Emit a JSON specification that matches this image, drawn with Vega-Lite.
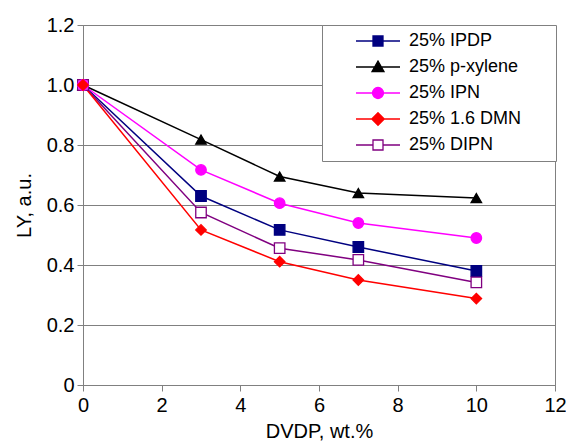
{
  "$schema": "https://vega.github.io/schema/vega-lite/v6.json",
  "width": 472,
  "height": 360,
  "autosize": {"type": "none"},
  "padding": {"left": 83, "top": 25, "right": 11, "bottom": 59},
  "background": "white",
  "config": {
    "font": "Liberation Sans",
    "view": {"stroke": "#808080", "strokeWidth": 1},
    "axis": {
      "domainColor": "#808080",
      "tickColor": "#808080",
      "tickSize": 6,
      "labelFontSize": 20,
      "titleFontSize": 20,
      "titleFontWeight": "normal",
      "labelColor": "black",
      "titleColor": "black",
      "labelFont": "Liberation Sans",
      "titleFont": "Liberation Sans",
      "gridColor": "#808080",
      "gridOpacity": 1,
      "labelFlush": false
    }
  },
  "data": {
    "values": [
      {"series": "25% IPDP", "x": 0, "y": 1.0},
      {"series": "25% IPDP", "x": 3, "y": 0.63},
      {"series": "25% IPDP", "x": 5, "y": 0.517},
      {"series": "25% IPDP", "x": 7, "y": 0.46},
      {"series": "25% IPDP", "x": 10, "y": 0.38},
      {"series": "25% p-xylene", "x": 0, "y": 1.0},
      {"series": "25% p-xylene", "x": 3, "y": 0.818},
      {"series": "25% p-xylene", "x": 5, "y": 0.695},
      {"series": "25% p-xylene", "x": 7, "y": 0.64},
      {"series": "25% p-xylene", "x": 10, "y": 0.623},
      {"series": "25% DIPN", "x": 0, "y": 1.0},
      {"series": "25% DIPN", "x": 3, "y": 0.575},
      {"series": "25% DIPN", "x": 5, "y": 0.456},
      {"series": "25% DIPN", "x": 7, "y": 0.417},
      {"series": "25% DIPN", "x": 10, "y": 0.342},
      {"series": "25% IPN", "x": 0, "y": 1.0},
      {"series": "25% IPN", "x": 3, "y": 0.717},
      {"series": "25% IPN", "x": 5, "y": 0.606},
      {"series": "25% IPN", "x": 7, "y": 0.54},
      {"series": "25% IPN", "x": 10, "y": 0.49},
      {"series": "25% 1.6 DMN", "x": 0, "y": 1.0},
      {"series": "25% 1.6 DMN", "x": 3, "y": 0.517},
      {"series": "25% 1.6 DMN", "x": 5, "y": 0.411},
      {"series": "25% 1.6 DMN", "x": 7, "y": 0.35},
      {"series": "25% 1.6 DMN", "x": 10, "y": 0.288}
    ]
  },
  "encoding": {
    "x": {
      "field": "x",
      "type": "quantitative",
      "scale": {"domain": [0, 12], "nice": false, "zero": false},
      "axis": {"values": [0, 2, 4, 6, 8, 10, 12], "grid": false, "title": "DVDP, wt.%", "labelPadding": 4, "titlePadding": 6}
    },
    "y": {
      "field": "y",
      "type": "quantitative",
      "scale": {"domain": [0, 1.2], "nice": false},
      "axis": {
        "values": [0, 0.2, 0.4, 0.6, 0.8, 1.0, 1.2],
        "grid": true,
        "title": "LY, a.u.",
        "labelExpr": "datum.value == 0 ? '0' : format(datum.value, '.1f')",
        "labelPadding": 3,
        "titlePadding": 12
      }
    }
  },
  "layer": [
    {
      "mark": {"type": "line", "strokeWidth": 1.5},
      "encoding": {
        "color": {
          "field": "series",
          "type": "nominal",
          "scale": {
            "domain": ["25% IPDP", "25% p-xylene", "25% IPN", "25% 1.6 DMN", "25% DIPN"],
            "range": ["#000080", "#000000", "#FF00FF", "#FF0000", "#800080"]
          },
          "legend": null
        },
        "detail": {"field": "series"}
      }
    },
    {
      "mark": {"type": "point", "size": 110, "strokeWidth": 1.3, "opacity": 1},
      "encoding": {
        "shape": {
          "field": "series",
          "type": "nominal",
          "scale": {
            "domain": ["25% IPDP", "25% p-xylene", "25% IPN", "25% 1.6 DMN", "25% DIPN"],
            "range": ["square", "triangle-up", "circle", "diamond", "square"]
          },
          "legend": null
        },
        "fill": {
          "field": "series",
          "type": "nominal",
          "scale": {
            "domain": ["25% IPDP", "25% p-xylene", "25% IPN", "25% 1.6 DMN", "25% DIPN"],
            "range": ["#000080", "#000000", "#FF00FF", "#FF0000", "#FFFFFF"]
          },
          "legend": null
        },
        "stroke": {
          "field": "series",
          "type": "nominal",
          "scale": {
            "domain": ["25% IPDP", "25% p-xylene", "25% IPN", "25% 1.6 DMN", "25% DIPN"],
            "range": ["#000080", "#000000", "#FF00FF", "#FF0000", "#800080"]
          },
          "legend": null
        }
      }
    },
    {
      "transform": [{"filter": "datum.x < 0"}],
      "mark": {"type": "point", "size": 100, "strokeWidth": 1.3, "opacity": 1},
      "encoding": {
        "shape": {
          "field": "series",
          "type": "nominal",
          "scale": {
            "domain": ["25% IPDP", "25% p-xylene", "25% IPN", "25% 1.6 DMN", "25% DIPN"],
            "range": [
              "M0,0M33.6,0M-4.4,0H4.4M-1,-1H1V1H-1Z",
              "M0,0M33.6,0M-4.4,0H4.4M0,-1.2L1.2,0.9L-1.2,0.9Z",
              "M0,0M33.6,0M-4.4,0H4.4M1.1,0A1.1,1.1 0 1,1 -1.1,0A1.1,1.1 0 1,1 1.1,0Z",
              "M0,0M33.6,0M-4.4,0H4.4M0,-1.25L1.25,0L0,1.25L-1.25,0Z",
              "M0,0M33.6,0M-4.4,0H-1M1,0H4.4M-1,-1H1V1H-1Z"
            ]
          },
          "legend": {
            "orient": "none",
            "legendX": 239,
            "legendY": 0,
            "title": null,
            "fillColor": "white",
            "strokeColor": "#808080",
            "padding": 7,
            "symbolSize": 100,
            "symbolStrokeWidth": 1.3,
            "symbolOffset": 40,
            "labelFontSize": 18,
            "labelFont": "Liberation Sans",
            "labelColor": "black",
            "labelOffset": 22,
            "rowPadding": 8
          }
        },
        "fill": {
          "field": "series",
          "type": "nominal",
          "scale": {
            "domain": ["25% IPDP", "25% p-xylene", "25% IPN", "25% 1.6 DMN", "25% DIPN"],
            "range": ["#000080", "#000000", "#FF00FF", "#FF0000", "#FFFFFF"]
          }
        },
        "stroke": {
          "field": "series",
          "type": "nominal",
          "scale": {
            "domain": ["25% IPDP", "25% p-xylene", "25% IPN", "25% 1.6 DMN", "25% DIPN"],
            "range": ["#000080", "#000000", "#FF00FF", "#FF0000", "#800080"]
          }
        }
      }
    }
  ],
  "resolve": {"scale": {"shape": "independent", "fill": "independent", "stroke": "independent"}}
}
